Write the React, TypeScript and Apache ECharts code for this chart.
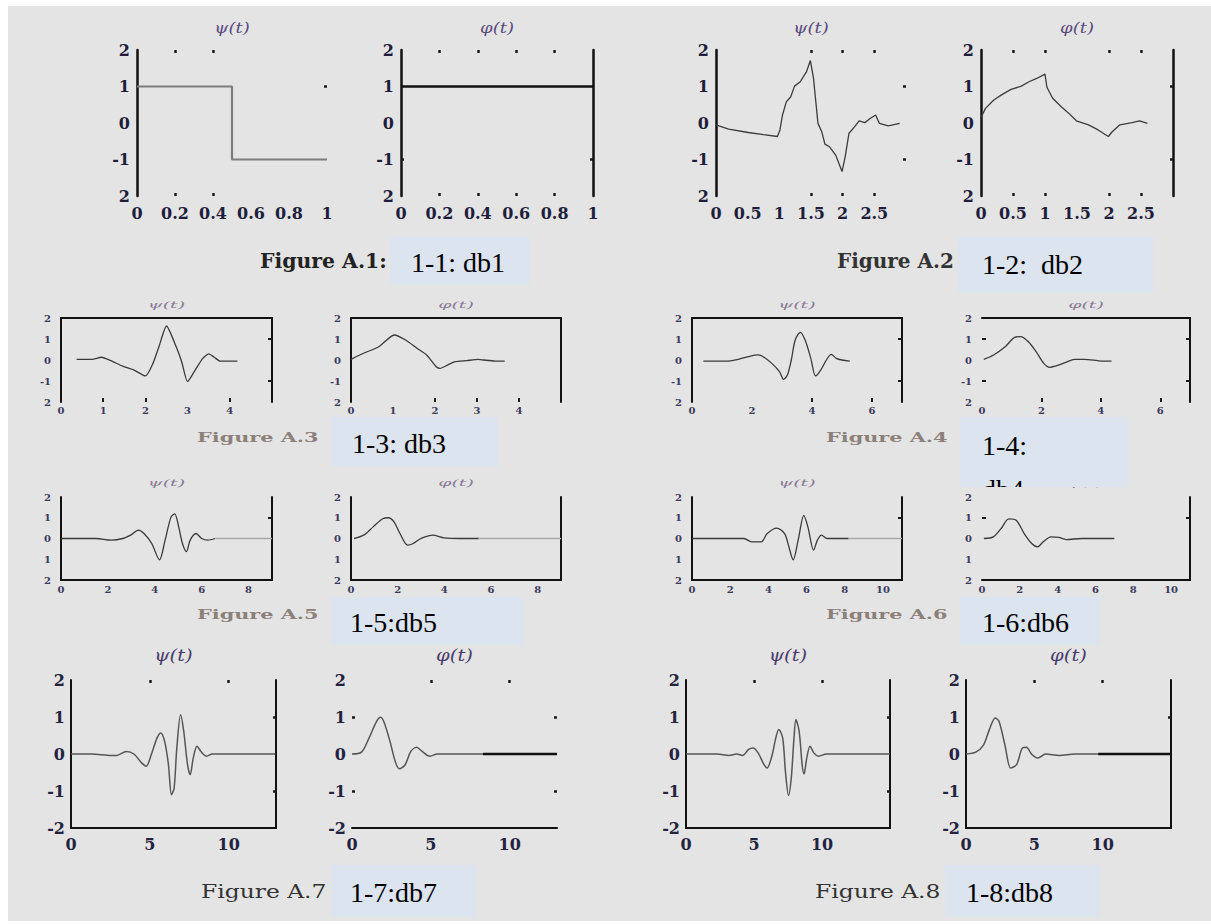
import React, { useEffect, useRef } from 'react';
import * as echarts from 'echarts';

// ---------------- data ----------------
const db1Psi = [[0, 1], [0.5, 1], [0.5, -1], [1, -1]];
const db1Phi = [[0, 1], [1, 1]];
const db2Psi = [[0, -0.05], [0.2, -0.17], [0.51, -0.26], [0.75, -0.32], [0.97, -0.37], [1.01, -0.19], [1.05, 0.22], [1.11, 0.58], [1.18, 0.72], [1.24, 1.01], [1.33, 1.13], [1.43, 1.41], [1.49, 1.71], [1.54, 1.22], [1.61, -0.01], [1.67, -0.24], [1.72, -0.58], [1.79, -0.65], [1.89, -0.88], [1.99, -1.33], [2.04, -0.92], [2.1, -0.28], [2.19, -0.1], [2.26, 0.06], [2.35, 0.01], [2.44, 0.13], [2.52, 0.22], [2.58, -0.01], [2.72, -0.08], [2.9, -0.01]];
const db2Phi = [[0, 0.15], [0.07, 0.4], [0.2, 0.63], [0.32, 0.77], [0.47, 0.92], [0.63, 1.01], [0.75, 1.13], [0.87, 1.22], [1.0, 1.34], [1.03, 0.98], [1.12, 0.68], [1.25, 0.45], [1.37, 0.27], [1.49, 0.06], [1.68, -0.05], [1.83, -0.19], [1.99, -0.37], [2.05, -0.24], [2.17, -0.05], [2.36, 0.01], [2.48, 0.06], [2.6, -0.01]];
const db3Psi = [[0.37, 0.03], [0.73, 0.03], [0.96, 0.13], [1.18, -0.03], [1.46, -0.29], [1.73, -0.48], [2.0, -0.76], [2.18, -0.16], [2.32, 0.63], [2.5, 1.62], [2.73, 0.63], [2.86, -0.08], [3.0, -1.03], [3.18, -0.48], [3.36, 0.08], [3.5, 0.29], [3.63, 0.13], [3.77, -0.05], [3.95, -0.05], [4.18, -0.05]];
const db3Phi = [[0, 0.03], [0.3, 0.32], [0.66, 0.63], [1.03, 1.19], [1.3, 0.95], [1.57, 0.56], [1.8, 0.24], [2.03, -0.32], [2.12, -0.4], [2.3, -0.24], [2.48, -0.08], [2.75, -0.03], [3.03, 0.03], [3.16, 0.0], [3.43, -0.05], [3.66, -0.05]];
const db4Psi = [[0.38, -0.05], [1.22, -0.05], [1.55, 0.03], [1.88, 0.16], [2.2, 0.24], [2.4, 0.13], [2.66, -0.16], [2.92, -0.56], [3.05, -0.92], [3.18, -0.71], [3.31, 0], [3.44, 0.95], [3.61, 1.32], [3.77, 0.95], [3.96, 0.08], [4.12, -0.76], [4.29, -0.48], [4.48, 0], [4.64, 0.27], [4.81, 0.08], [5.0, 0], [5.26, -0.05]];
const db4Phi = [[0.06, 0.03], [0.39, 0.24], [0.78, 0.63], [1.1, 1.08], [1.3, 1.11], [1.56, 0.87], [1.82, 0.4], [2.08, -0.16], [2.28, -0.35], [2.47, -0.29], [2.8, -0.13], [3.12, 0.03], [3.45, 0.03], [4.04, -0.05], [4.36, -0.05]];
const db5Psi = [[0.01, 0], [1.49, 0], [2.15, -0.08], [2.64, 0], [2.97, 0.16], [3.3, 0.4], [3.54, 0.24], [3.87, -0.24], [4.2, -1.03], [4.44, -0.08], [4.69, 1.03], [4.85, 1.19], [5.02, 0.56], [5.18, -0.24], [5.35, -0.63], [5.51, -0.08], [5.76, 0.24], [6.0, 0], [6.25, -0.08], [6.58, 0]];
const db5PsiTail = [[6.58, 0], [9, 0]];
const db5Phi = [[0.13, 0], [0.54, 0.16], [0.95, 0.56], [1.36, 0.95], [1.61, 1.0], [1.85, 0.79], [2.1, 0.24], [2.43, -0.32], [2.67, -0.24], [2.92, -0.05], [3.17, 0.08], [3.5, 0.16], [3.99, 0.03], [4.64, 0], [5.47, 0]];
const db5PhiTail = [[5.47, 0], [9, 0]];
const db6Psi = [[0.02, 0], [0.89, 0], [1.7, 0], [2.72, 0], [3.12, -0.16], [3.63, -0.16], [3.94, 0.24], [4.44, 0.5], [4.85, 0.24], [5.05, -0.32], [5.3, -1.03], [5.56, -0.08], [5.86, 1.11], [6.07, 0.56], [6.37, -0.56], [6.57, -0.08], [6.78, 0.16], [7.08, 0], [7.39, 0], [8.2, 0]];
const db6PsiTail = [[8.2, 0], [11, 0]];
const db6Phi = [[0.1, 0], [0.6, 0.08], [1.01, 0.48], [1.42, 0.95], [1.82, 0.87], [2.23, 0.24], [2.63, -0.24], [2.94, -0.4], [3.24, -0.16], [3.65, 0.08], [4.06, 0.05], [4.46, -0.05], [5.27, 0], [7.0, 0]];
const db7Psi = [[0, 0], [1.33, 0], [2.54, -0.04], [2.9, -0.04], [3.51, 0.07], [3.99, 0], [4.48, -0.24], [4.77, -0.33], [5.09, -0.02], [5.45, 0.43], [5.69, 0.57], [5.94, 0.34], [6.18, -0.29], [6.37, -1.1], [6.54, -0.92], [6.71, 0.16], [6.95, 1.06], [7.15, 0.61], [7.39, -0.29], [7.56, -0.56], [7.75, -0.11], [7.99, 0.21], [8.24, 0.07], [8.6, -0.06], [8.96, 0], [12.96, 0]];
const db7Phi = [[0, 0], [0.6, 0.05], [1.08, 0.43], [1.56, 0.88], [1.81, 0.99], [2.05, 0.84], [2.41, 0.34], [2.77, -0.24], [3.01, -0.4], [3.37, -0.29], [3.73, 0.07], [4.09, 0.18], [4.45, 0.07], [4.93, -0.06], [5.42, 0], [6.26, 0], [8.3, 0]];
const db7PhiTail = [[8.3, 0], [13, 0]];
const db8Psi = [[0, 0], [2.29, 0], [3.15, -0.04], [3.73, 0], [4.16, -0.04], [4.59, 0.12], [4.93, 0.16], [5.3, 0.03], [5.74, -0.29], [5.96, -0.38], [6.31, -0.06], [6.6, 0.43], [6.82, 0.66], [7.11, 0.43], [7.31, -0.47], [7.54, -1.12], [7.74, -0.65], [7.94, 0.43], [8.08, 0.93], [8.32, 0.61], [8.54, -0.29], [8.68, -0.54], [8.88, -0.11], [9.12, 0.21], [9.4, 0.03], [9.74, -0.06], [10.32, 0], [15, 0]];
const db8Phi = [[0, 0], [0.71, 0.05], [1.28, 0.24], [1.71, 0.66], [2.14, 0.97], [2.42, 0.88], [2.85, 0.24], [3.27, -0.38], [3.7, -0.29], [4.12, 0.16], [4.41, 0.18], [4.84, -0.02], [5.26, -0.11], [5.83, 0], [6.83, -0.04], [7.96, 0], [9.67, 0]];
const db8PhiTail = [[9.67, 0], [15, 0]];

// tick label texts (y axis, top to bottom) per row, as they appear
const yLabelsRow1 = ['2', '1', '0', '-1', '2'];
const yLabelsRow2 = ['2', '1', '0', '-1', '2'];
const yLabelsRow3 = ['2', '1', '0', '1', '2'];
const yLabelsRow4 = ['2', '1', '0', '-1', '-2'];

const captionTexts = ['Figure A.1:', 'Figure A.2', 'Figure A.3', 'Figure A.4', 'Figure A.5', 'Figure A.6', 'Figure A.7', 'Figure A.8'];
const boxTexts = ['1-1: db1', '1-2:  db2', '1-3: db3', '1-4:', '1-5:db5', '1-6:db6', '1-7:db7', '1-8:db8'];

// ---------------- layout / styles ----------------
const SERIF = '"DejaVu Serif", serif';
const TIMES = '"Liberation Serif", "Times New Roman", serif';

type RowStyle = {
  fontSize: number; xMargin: number; yMargin: number; axisW: number; tickLen: number; tickW: number;
  titleFont: string; titleY: number; titleScale: number; yLabels: string[]; labelColor: string; titleColor: string;
};
const rowStyles: Record<number, RowStyle> = {
  1: { fontSize: 16, xMargin: 9, yMargin: 7, axisW: 2.5, tickLen: 3, tickW: 2.5, titleFont: `italic 15px ${SERIF}`, titleY: 28, titleScale: 1.2, yLabels: yLabelsRow1, labelColor: '#1e1e3c', titleColor: '#5b4b80' },
  2: { fontSize: 10, xMargin: 3, yMargin: 10, axisW: 2, tickLen: 4, tickW: 2, titleFont: `italic 10px ${SERIF}`, titleY: 305, titleScale: 1.9, yLabels: yLabelsRow2, labelColor: '#3a3a5e', titleColor: '#8a7a98' },
  3: { fontSize: 10, xMargin: 4, yMargin: 10, axisW: 2, tickLen: 4, tickW: 2, titleFont: `italic 10px ${SERIF}`, titleY: 483, titleScale: 1.9, yLabels: yLabelsRow3, labelColor: '#3a3a5e', titleColor: '#8a7a98' },
  4: { fontSize: 16, xMargin: 8, yMargin: 6, axisW: 2, tickLen: 3, tickW: 2.5, titleFont: `italic 17px ${SERIF}`, titleY: 655, titleScale: 1.15, yLabels: yLabelsRow4, labelColor: '#23233f', titleColor: '#4a3d6e' },
};

type Panel = {
  title: string; data: number[][]; tail?: number[][]; tailColor?: string; tailW?: number;
  row: number; left: number; top: number; width: number; height: number;
  xMax: number; xInterval: number; showMax: boolean;
  frame: [number, number, number, number]; // top, right, bottom, left
  topTicks: number[]; bottomTicks: number[]; leftTicks: number[]; rightTicks: number[];
  color: string; lw: number; smooth: number | boolean;
};

const R1 = { top: 50, height: 146 };
const R2 = { top: 318, height: 84 };
const R3 = { top: 497, height: 83 };
const R4 = { top: 680, height: 148 };

const panels: Panel[] = [
  { title: 'ψ(t)', data: db1Psi, row: 1, left: 137, ...R1, width: 190, xMax: 1, xInterval: 0.2, showMax: true, frame: [0, 0, 0, 1], topTicks: [0.2, 0.4], bottomTicks: [0.2, 0.4], leftTicks: [], rightTicks: [1], color: '#7c7c7c', lw: 2.2, smooth: false },
  { title: 'φ(t)', data: db1Phi, row: 1, left: 401, ...R1, width: 192, xMax: 1, xInterval: 0.2, showMax: true, frame: [0, 1, 0, 1], topTicks: [0.2, 0.4, 0.6, 0.8], bottomTicks: [0.2, 0.4, 0.6, 0.8], leftTicks: [-1], rightTicks: [-1], color: '#111', lw: 2.5, smooth: false },
  { title: 'ψ(t)', data: db2Psi, row: 1, left: 716, ...R1, width: 190, xMax: 3, xInterval: 0.5, showMax: false, frame: [0, 0, 0, 1], topTicks: [1.5, 2, 2.5], bottomTicks: [1.5, 2, 2.5], leftTicks: [], rightTicks: [1, -1], color: '#3c3c3c', lw: 1.3, smooth: false },
  { title: 'φ(t)', data: db2Phi, row: 1, left: 981, ...R1, width: 192, xMax: 3, xInterval: 0.5, showMax: false, frame: [0, 1, 0, 1], topTicks: [0.5, 1, 2, 2.5], bottomTicks: [0.5, 1, 2, 2.5], leftTicks: [], rightTicks: [1, -1], color: '#3c3c3c', lw: 1.3, smooth: false },

  { title: 'ψ(t)', data: db3Psi, row: 2, left: 61, ...R2, width: 211, xMax: 5, xInterval: 1, showMax: false, frame: [1, 1, 0, 1], topTicks: [], bottomTicks: [1, 2, 4], leftTicks: [], rightTicks: [1, -1], color: '#3a3a3a', lw: 1.3, smooth: 0.2 },
  { title: 'φ(t)', data: db3Phi, row: 2, left: 351, ...R2, width: 210, xMax: 5, xInterval: 1, showMax: false, frame: [1, 1, 0, 1], topTicks: [], bottomTicks: [2, 3, 4], leftTicks: [], rightTicks: [], color: '#3a3a3a', lw: 1.3, smooth: 0.2 },
  { title: 'ψ(t)', data: db4Psi, row: 2, left: 692, ...R2, width: 210, xMax: 7, xInterval: 2, showMax: false, frame: [1, 1, 0, 1], topTicks: [], bottomTicks: [4, 6], leftTicks: [], rightTicks: [1, -1], color: '#3a3a3a', lw: 1.3, smooth: 0.3 },
  { title: 'φ(t)', data: db4Phi, row: 2, left: 982, ...R2, width: 208, xMax: 7, xInterval: 2, showMax: false, frame: [1, 1, 0, 0], topTicks: [], bottomTicks: [2, 4, 6], leftTicks: [1, -1], rightTicks: [1, -1], color: '#3a3a3a', lw: 1.3, smooth: 0.3 },

  { title: 'ψ(t)', data: db5Psi, tail: db5PsiTail, tailColor: '#a8a8a8', tailW: 1.3, row: 3, left: 61, ...R3, width: 211, xMax: 9, xInterval: 2, showMax: false, frame: [0, 1, 1, 1], topTicks: [], bottomTicks: [], leftTicks: [], rightTicks: [1], color: '#3a3a3a', lw: 1.3, smooth: 0.3 },
  { title: 'φ(t)', data: db5Phi, tail: db5PhiTail, tailColor: '#a8a8a8', tailW: 1.3, row: 3, left: 351, ...R3, width: 210, xMax: 9, xInterval: 2, showMax: false, frame: [0, 1, 1, 1], topTicks: [], bottomTicks: [], leftTicks: [], rightTicks: [], color: '#3a3a3a', lw: 1.3, smooth: 0.3 },
  { title: 'ψ(t)', data: db6Psi, tail: db6PsiTail, tailColor: '#a8a8a8', tailW: 1.3, row: 3, left: 692, ...R3, width: 210, xMax: 11, xInterval: 2, showMax: false, frame: [0, 1, 1, 1], topTicks: [], bottomTicks: [], leftTicks: [], rightTicks: [1], color: '#3a3a3a', lw: 1.3, smooth: 0.3 },
  { title: 'φ(t)', data: db6Phi, row: 3, left: 982, ...R3, width: 208, xMax: 11, xInterval: 2, showMax: false, frame: [0, 1, 1, 0], topTicks: [], bottomTicks: [], leftTicks: [1], rightTicks: [1], color: '#3a3a3a', lw: 1.3, smooth: 0.3 },

  { title: 'ψ(t)', data: db7Psi, row: 4, left: 71, ...R4, width: 205, xMax: 13, xInterval: 5, showMax: false, frame: [0, 1, 1, 1], topTicks: [5, 10], bottomTicks: [], leftTicks: [], rightTicks: [1, -1], color: '#555', lw: 1.5, smooth: 0.3 },
  { title: 'φ(t)', data: db7Phi, tail: db7PhiTail, tailColor: '#111', tailW: 2.5, row: 4, left: 352, ...R4, width: 205, xMax: 13, xInterval: 5, showMax: false, frame: [0, 0, 1, 0], topTicks: [5, 10], bottomTicks: [], leftTicks: [1, -1], rightTicks: [1, -1], color: '#555', lw: 1.5, smooth: 0.3 },
  { title: 'ψ(t)', data: db8Psi, row: 4, left: 686, ...R4, width: 204, xMax: 15, xInterval: 5, showMax: false, frame: [0, 1, 1, 1], topTicks: [5, 10], bottomTicks: [], leftTicks: [], rightTicks: [1, -1], color: '#555', lw: 1.5, smooth: 0.3 },
  { title: 'φ(t)', data: db8Phi, tail: db8PhiTail, tailColor: '#111', tailW: 2.5, row: 4, left: 966, ...R4, width: 205, xMax: 15, xInterval: 5, showMax: false, frame: [0, 1, 1, 1], topTicks: [5, 10], bottomTicks: [], leftTicks: [], rightTicks: [1], color: '#555', lw: 1.5, smooth: 0.3 },
];

// caption placement: [x, y, font, color, scaleX]
const captionLayout: [number, number, string, string, number][] = [
  [260, 261, `bold 20px ${SERIF}`, '#222', 1.02],
  [837, 261, `bold 20px ${SERIF}`, '#333', 1.0],
  [197, 438, `bold 13px ${SERIF}`, '#8c817a', 1.6],
  [826, 438, `bold 13px ${SERIF}`, '#8c817a', 1.6],
  [197, 615, `bold 13px ${SERIF}`, '#8c817a', 1.6],
  [826, 615, `bold 13px ${SERIF}`, '#8c817a', 1.6],
  [201, 892, `18px ${SERIF}`, '#333', 1.3],
  [815, 892, `18px ${SERIF}`, '#333', 1.3],
];
// label boxes: [x, y, w, h, textX, textY]
const boxLayout: [number, number, number, number, number, number][] = [
  [390, 237, 140, 48, 411, 262],
  [958, 237, 195, 56, 982, 264],
  [331, 417, 167, 49, 352, 443],
  [960, 417, 168, 70, 982, 445],
  [331, 597, 193, 48, 350, 622],
  [960, 597, 141, 48, 982, 622],
  [331, 865, 145, 52, 350, 892],
  [945, 865, 156, 52, 966, 892],
];

function txt(x: number, y: number, text: string, font: string, fill: string, align: string, scaleX = 1, z = 50) {
  return {
    type: 'text', x, y, scaleX, z, silent: true,
    style: { text, font, fill, textAlign: align, align, textVerticalAlign: 'middle', verticalAlign: 'middle' },
  };
}

function buildOption() {
  const grid: any[] = [];
  const xAxis: any[] = [];
  const yAxis: any[] = [];
  const series: any[] = [];
  const graphic: any[] = [];

  graphic.push({ type: 'rect', z: -10, silent: true, shape: { x: 8, y: 6, width: 1203, height: 915 }, style: { fill: '#e4e4e4' } });

  panels.forEach((p, i) => {
    const rs = rowStyles[p.row];
    grid.push({ left: p.left, top: p.top, width: p.width, height: p.height, show: false, containLabel: false, outerBoundsMode: 'none' });
    const axLine = (show: number) => ({ show: !!show, onZero: false, lineStyle: { color: '#111', width: rs.axisW } });
    const ticks = (vals: number[]) => vals.length
      ? { show: true, inside: true, length: rs.tickLen, customValues: vals, lineStyle: { color: '#1a1a1a', width: rs.tickW } }
      : { show: false };
    const labelStyle = { fontFamily: SERIF, fontWeight: 'bold', fontSize: rs.fontSize, color: rs.labelColor };

    xAxis.push({
      type: 'value', gridIndex: i, position: 'bottom', min: 0, max: p.xMax, interval: p.xInterval,
      axisLine: axLine(p.frame[2]), axisTick: ticks(p.bottomTicks),
      axisLabel: { show: true, interval: 0, margin: rs.xMargin, showMinLabel: true, showMaxLabel: p.showMax, ...labelStyle },
      splitLine: { show: false },
    });
    xAxis.push({
      type: 'value', gridIndex: i, position: 'top', min: 0, max: p.xMax, interval: p.xInterval,
      axisLine: axLine(p.frame[0]), axisTick: ticks(p.topTicks), axisLabel: { show: false }, splitLine: { show: false },
    });
    yAxis.push({
      type: 'value', gridIndex: i, position: 'left', min: -2, max: 2, interval: 1,
      axisLine: axLine(p.frame[3]), axisTick: ticks(p.leftTicks),
      axisLabel: { show: true, margin: rs.yMargin, formatter: (v: number) => rs.yLabels[2 - Math.round(v)], ...labelStyle },
      splitLine: { show: false },
    });
    yAxis.push({
      type: 'value', gridIndex: i, position: 'right', min: -2, max: 2, interval: 1,
      axisLine: axLine(p.frame[1]), axisTick: ticks(p.rightTicks), axisLabel: { show: false }, splitLine: { show: false },
    });

    series.push({
      type: 'line', xAxisIndex: 2 * i, yAxisIndex: 2 * i, data: p.data, showSymbol: false, symbol: 'none',
      smooth: p.smooth, silent: true, z: 3, lineStyle: { color: p.color, width: p.lw },
    });
    if (p.tail) {
      series.push({
        type: 'line', xAxisIndex: 2 * i, yAxisIndex: 2 * i, data: p.tail, showSymbol: false, symbol: 'none',
        silent: true, z: 3, lineStyle: { color: p.tailColor, width: p.tailW },
      });
    }
    graphic.push(txt(p.left + p.width / 2, rs.titleY, p.title, rs.titleFont, rs.titleColor, 'center', rs.titleScale, 20));
  });

  captionTexts.forEach((t, i) => {
    const [x, y, font, color, sx] = captionLayout[i];
    graphic.push(txt(x, y, t, font, color, 'left', sx, 30));
  });

  boxTexts.forEach((t, i) => {
    const [x, y, w, h, tx, ty] = boxLayout[i];
    graphic.push({ type: 'rect', z: 100, silent: true, shape: { x, y, width: w, height: h }, style: { fill: '#dbe4ef' } });
    graphic.push(txt(tx, ty, t, `28px ${TIMES}`, '#000', 'left', 1, 101));
    if (t === '1-4:') {
      // the second line of this label is cut off by the box edge
      graphic.push(txt(tx, ty + 44, 'db4', `28px ${TIMES}`, '#000', 'left', 1, 101));
      graphic.push({ type: 'rect', z: 110, silent: true, shape: { x: tx - 2, y: y + h, width: 56, height: 20 }, style: { fill: '#e4e4e4' } });
    }
  });

  return {
    animation: false,
    backgroundColor: '#ffffff',
    grid, xAxis, yAxis, series, graphic,
  };
}

export default function App() {
  const ref = useRef<HTMLDivElement>(null);
  useEffect(() => {
    if (!ref.current) return;
    const chart = echarts.init(ref.current, null, { renderer: 'svg' });
    chart.setOption(buildOption() as any);
    return () => chart.dispose();
  }, []);
  return <div ref={ref} style={{ position: 'absolute', left: 0, top: 0, width: 1211, height: 924 }} />;
}
